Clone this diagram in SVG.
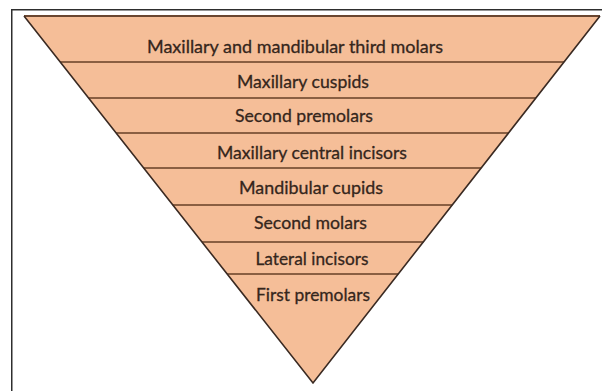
<svg xmlns="http://www.w3.org/2000/svg" width="602" height="391" viewBox="0 0 602 391">
<style>
.band{fill:#F5BE98;stroke:none}
.lbl{font-family:Lato,"Open Sans","Liberation Sans",sans-serif;font-size:17.5px;fill:#35261c;stroke:#35261c;stroke-width:0.3;text-anchor:middle}
.sep{stroke:#8a5f42;stroke-width:2;fill:none}
.edge{stroke:#3a2a22;stroke-width:1.6;fill:none;stroke-linejoin:miter}
.frame{stroke:#2e2e2e;stroke-width:1.5;fill:none}
</style>
<rect x="0" y="0" width="602" height="391" fill="#ffffff"/>
<path class="frame" d="M11.75,391 V9.75 H602"/>
<g id="layer-1"><polygon class="band" points="24,16 600,16 564,62 60.2,62"/><text class="lbl" x="295" y="52.5" textLength="296" lengthAdjust="spacingAndGlyphs">Maxillary and mandibular third molars</text></g>
<g id="layer-2"><polygon class="band" points="60.2,62 564,62 535.9,98 88.6,98"/><text class="lbl" x="303" y="88" textLength="132" lengthAdjust="spacingAndGlyphs">Maxillary cuspids</text></g>
<g id="layer-3"><polygon class="band" points="88.6,98 535.9,98 508.5,133 116.1,133"/><text class="lbl" x="304" y="122" textLength="138" lengthAdjust="spacingAndGlyphs">Second premolars</text></g>
<g id="layer-4"><polygon class="band" points="116.1,133 508.5,133 481.1,168 143.7,168"/><text class="lbl" x="312" y="159" textLength="190" lengthAdjust="spacingAndGlyphs">Maxillary central incisors</text></g>
<g id="layer-5"><polygon class="band" points="143.7,168 481.1,168 452.2,205 172.8,205"/><text class="lbl" x="311" y="194" textLength="144" lengthAdjust="spacingAndGlyphs">Mandibular cupids</text></g>
<g id="layer-6"><polygon class="band" points="172.8,205 452.2,205 423.3,242 202,242"/><text class="lbl" x="310.5" y="228.5" textLength="113" lengthAdjust="spacingAndGlyphs">Second molars</text></g>
<g id="layer-7"><polygon class="band" points="202,242 423.3,242 398.2,274 227.2,274"/><text class="lbl" x="312" y="265" textLength="113" lengthAdjust="spacingAndGlyphs">Lateral incisors</text></g>
<g id="layer-8"><polygon class="band" points="227.2,274 398.2,274 313,383"/><text class="lbl" x="313" y="301" textLength="114" lengthAdjust="spacingAndGlyphs">First premolars</text></g>
<g id="connectors">
<line class="sep" x1="60.2" y1="62" x2="564" y2="62"/>
<line class="sep" x1="88.6" y1="98" x2="535.9" y2="98"/>
<line class="sep" x1="116.1" y1="133" x2="508.5" y2="133"/>
<line class="sep" x1="143.7" y1="168" x2="481.1" y2="168"/>
<line class="sep" x1="172.8" y1="205" x2="452.2" y2="205"/>
<line class="sep" x1="202" y1="242" x2="423.3" y2="242"/>
<line class="sep" x1="227.2" y1="274" x2="398.2" y2="274"/>
<line x1="24" y1="16" x2="600" y2="16" stroke="#6a4630" stroke-width="2.2"/>
<polyline class="edge" points="24,16 313,383 600,16"/>
</g>
</svg>
